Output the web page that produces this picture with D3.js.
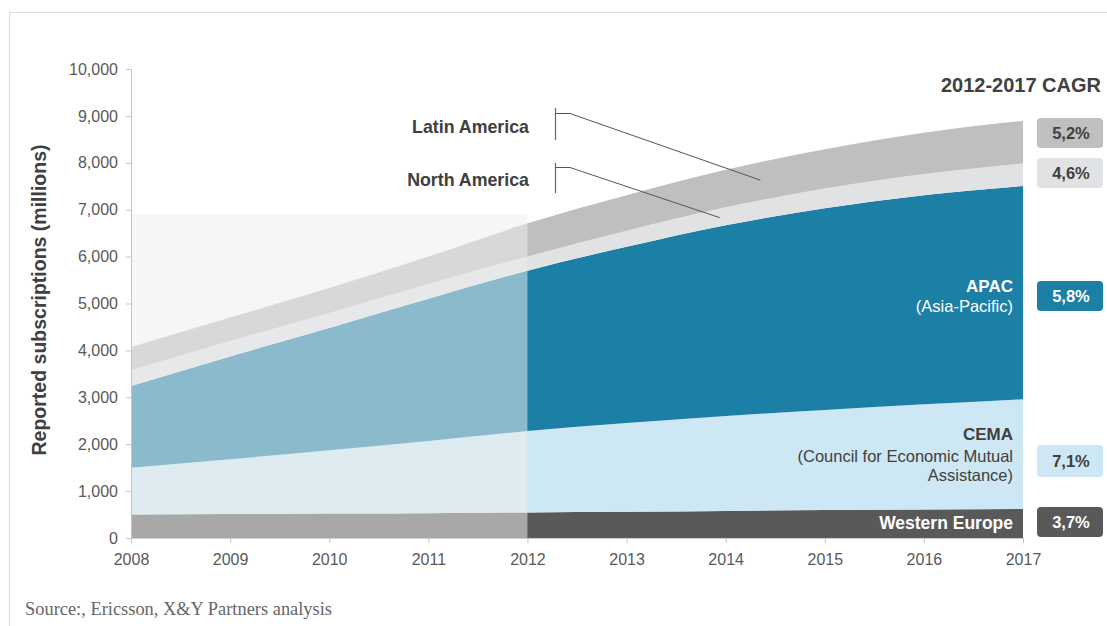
<!DOCTYPE html>
<html>
<head>
<meta charset="utf-8">
<script src="https://cdn.jsdelivr.net/npm/d3@7"></script>
<style>
  html, body { margin: 0; padding: 0; background: #fff; }
  svg { display: block; font-family: "Liberation Sans", Arial, sans-serif; }
</style>
</head>
<body>
<svg id="chart" width="1107" height="626"></svg>
<script>
// ---- Data ----
const years = [2008, 2009, 2010, 2011, 2012, 2013, 2014, 2015, 2016, 2017];
const westernEurope = [500, 510, 520, 530, 545, 560, 578, 595, 608, 620];
const cema          = [1000, 1170, 1350, 1540, 1735, 1890, 2022, 2135, 2242, 2340];
const apac          = [1740, 2190, 2610, 3030, 3420, 3760, 4070, 4300, 4460, 4545];
const northAmerica  = [340, 330, 320, 310, 300, 340, 380, 420, 450, 480];
const latinAmerica  = [490, 500, 530, 590, 710, 760, 800, 840, 880, 910];
const seriesKeys = ["westernEurope", "cema", "apac", "northAmerica", "latinAmerica"];
const cagrLabels = ["3,7%", "7,1%", "5,8%", "4,6%", "5,2%"];
const yTicks = [0, 1000, 2000, 3000, 4000, 5000, 6000, 7000, 8000, 9000, 10000];
const forecastStart = 2012;
const historyShadeTop = 6900;

// ---- Styles ----
const colors = {
  westernEurope: "#595959",
  cema: "#cde7f4",
  apac: "#1b7fa6",
  northAmerica: "#e0e2e3",
  latinAmerica: "#bfbfbf"
};
const textColors = {
  westernEurope: "#ffffff",
  cema: "#404040",
  apac: "#ffffff",
  northAmerica: "#404040",
  latinAmerica: "#404040"
};

const svg = d3.select("#chart");

// frame
svg.append("path")
  .attr("d", "M9.5,626 L9.5,12.5 L1107,12.5")
  .attr("fill", "none").attr("stroke", "#dcdcdc").attr("stroke-width", 1);

const x = d3.scaleLinear().domain([2008, 2017]).range([131, 1023]);
const y = d3.scaleLinear().domain([0, 10000]).range([538, 69]);

const table = years.map((yr, i) => ({
  year: yr,
  westernEurope: westernEurope[i],
  cema: cema[i],
  apac: apac[i],
  northAmerica: northAmerica[i],
  latinAmerica: latinAmerica[i]
}));

const stacked = d3.stack().keys(seriesKeys)(table);

const area = d3.area()
  .x(d => x(d.data.year))
  .y0(d => y(d[0]))
  .y1(d => y(d[1]))
  .curve(d3.curveMonotoneX);

svg.append("g").selectAll("path")
  .data(stacked)
  .join("path")
  .attr("d", area)
  .attr("fill", d => colors[d.key]);

// historical shading overlay
svg.append("rect")
  .attr("x", x(2008))
  .attr("y", y(historyShadeTop))
  .attr("width", x(forecastStart) - x(2008))
  .attr("height", y(0) - y(historyShadeTop))
  .attr("fill", "rgb(238,238,238)")
  .attr("fill-opacity", 0.53);

// axes
const yAxis = svg.append("g")
  .attr("transform", `translate(${x(2008)},0)`)
  .call(d3.axisLeft(y).tickValues(yTicks).tickFormat(d3.format(",")).tickSize(5).tickPadding(8));
yAxis.select(".domain").attr("stroke", "#c4c4c4");
yAxis.selectAll(".tick line").attr("stroke", "#c4c4c4");
yAxis.selectAll(".tick text")
  .attr("fill", "#595959")
  .style("font-size", "16px")
  .style("font-family", "'Liberation Sans', Arial, sans-serif");

const xAxis = svg.append("g")
  .attr("transform", `translate(0,${y(0)})`)
  .call(d3.axisBottom(x).tickValues(years).tickFormat(d3.format("d")).tickSize(5).tickPadding(11));
xAxis.select(".domain").attr("stroke", "#d0d0d0");
xAxis.selectAll(".tick line").attr("stroke", "#c4c4c4");
xAxis.selectAll(".tick text")
  .attr("fill", "#595959")
  .style("font-size", "16px")
  .style("font-family", "'Liberation Sans', Arial, sans-serif");

// y-axis title
svg.append("text")
  .attr("transform", "translate(46,300) rotate(-90)")
  .attr("text-anchor", "middle")
  .attr("fill", "#404040")
  .style("font-size", "19.5px")
  .style("font-weight", "bold")
  .text("Reported subscriptions (millions)");

// CAGR header
svg.append("text")
  .attr("x", 1101).attr("y", 92)
  .attr("text-anchor", "end")
  .attr("fill", "#404040")
  .style("font-size", "20px")
  .style("font-weight", "bold")
  .text("2012-2017 CAGR");

// CAGR boxes
const boxCenters = { westernEurope: 522, cema: 461, apac: 296, northAmerica: 173, latinAmerica: 133 };
const boxHeights = { westernEurope: 30, cema: 32, apac: 30, northAmerica: 30, latinAmerica: 30 };
const boxG = svg.append("g");
seriesKeys.forEach((k, i) => {
  const cy = boxCenters[k], h = boxHeights[k];
  boxG.append("rect")
    .attr("x", 1037).attr("y", cy - h / 2)
    .attr("width", 66).attr("height", h)
    .attr("rx", 4).attr("ry", 4)
    .attr("fill", colors[k]);
  boxG.append("text")
    .attr("x", 1071).attr("y", cy)
    .attr("dy", "0.36em")
    .attr("text-anchor", "middle")
    .attr("fill", textColors[k])
    .style("font-size", "16.5px")
    .style("font-weight", "bold")
    .text(cagrLabels[i]);
});

// in-area labels
const lbl = (txt, yy, color, bold, size) => svg.append("text")
  .attr("x", 1013).attr("y", yy).attr("dy", "0.36em")
  .attr("text-anchor", "end")
  .attr("fill", color)
  .style("font-size", size + "px")
  .style("font-weight", bold ? "bold" : "normal")
  .text(txt);

lbl("APAC", 286, "#ffffff", true, 17);
lbl("(Asia-Pacific)", 306, "#ffffff", false, 16.5);
lbl("CEMA", 434, "#404040", true, 17);
lbl("(Council for Economic Mutual", 456, "#404040", false, 16.5);
lbl("Assistance)", 475, "#404040", false, 16.5);
lbl("Western Europe", 523, "#ffffff", true, 17.5);

// callouts for Latin / North America
const callouts = [
  { label: "Latin America", labelY: 127, barTop: 108, barBottom: 140, elbowY: 113.5, endYear: 2014.35, endValue: 7630 },
  { label: "North America", labelY: 180, barTop: 163, barBottom: 193, elbowY: 167.5, endYear: 2013.94, endValue: 6830 }
];
const barX = 555.5, elbowX = 570;
callouts.forEach(c => {
  svg.append("text")
    .attr("x", 529).attr("y", c.labelY).attr("dy", "0.36em")
    .attr("text-anchor", "end")
    .attr("fill", "#404040")
    .style("font-size", "17.8px")
    .style("font-weight", "bold")
    .text(c.label);
  svg.append("line")
    .attr("x1", barX).attr("x2", barX).attr("y1", c.barTop).attr("y2", c.barBottom)
    .attr("stroke", "#666").attr("stroke-width", 1.2);
  svg.append("polyline")
    .attr("points", `${barX},${c.elbowY} ${elbowX},${c.elbowY} ${x(c.endYear)},${y(c.endValue)}`)
    .attr("fill", "none").attr("stroke", "#555").attr("stroke-width", 1);
});

// source
svg.append("text")
  .attr("x", 25).attr("y", 615)
  .attr("fill", "#666")
  .attr("textLength", 307)
  .attr("lengthAdjust", "spacingAndGlyphs")
  .style("font-family", "'Liberation Serif', 'DejaVu Serif', serif")
  .style("font-size", "18px")
  .text("Source:, Ericsson, X&Y Partners analysis");
</script>
</body>
</html>
